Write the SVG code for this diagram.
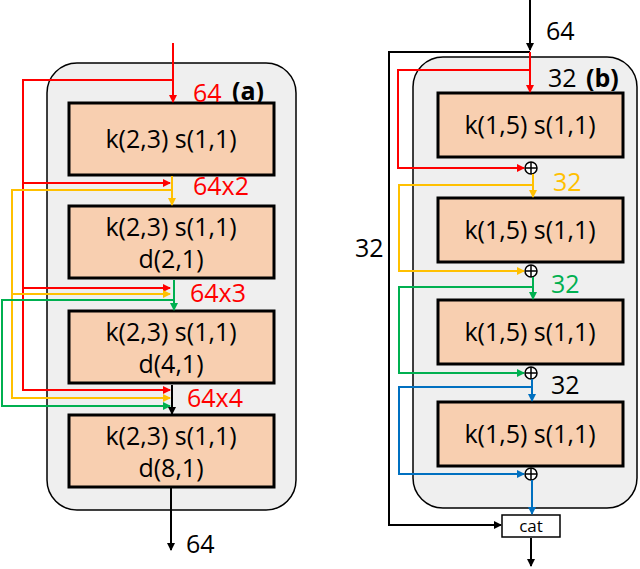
<svg xmlns="http://www.w3.org/2000/svg" width="640" height="569" viewBox="0 0 640 569">
<style>
text{font-family:"Open Sans","Liberation Sans",sans-serif;}
.panel{fill:#efefef;stroke:#000;stroke-width:1.5}
.box{fill:#f8cfb0;stroke:#000;stroke-width:3}
.bt{font-size:25px;text-anchor:middle}
.lb{font-size:25px}
.l{fill:none;stroke-width:2}
</style>
<defs>
<marker id="ak" markerWidth="8" markerHeight="8" refX="7" refY="4" orient="auto" markerUnits="userSpaceOnUse"><path d="M0,0L8,4L0,8z" fill="#000"/></marker>
<marker id="ar" markerWidth="8" markerHeight="8" refX="7" refY="4" orient="auto" markerUnits="userSpaceOnUse"><path d="M0,0L8,4L0,8z" fill="#f00"/></marker>
<marker id="ay" markerWidth="8" markerHeight="8" refX="7" refY="4" orient="auto" markerUnits="userSpaceOnUse"><path d="M0,0L8,4L0,8z" fill="#ffc000"/></marker>
<marker id="ag" markerWidth="8" markerHeight="8" refX="7" refY="4" orient="auto" markerUnits="userSpaceOnUse"><path d="M0,0L8,4L0,8z" fill="#00b050"/></marker>
<marker id="ab" markerWidth="8" markerHeight="8" refX="7" refY="4" orient="auto" markerUnits="userSpaceOnUse"><path d="M0,0L8,4L0,8z" fill="#0070c0"/></marker>
</defs>
<rect class="panel" x="47" y="63" width="249" height="447" rx="30"/>
<rect class="panel" x="413" y="57" width="224" height="451" rx="30"/>
<g id="a1"><rect class="box" x="69" y="103" width="205" height="72"/><text class="bt" x="171" y="148">k(2,3) s(1,1)</text></g>
<g id="a2"><rect class="box" x="69" y="206" width="205" height="72"/><text class="bt" x="171" y="236">k(2,3) s(1,1)</text><text class="bt" x="171" y="268">d(2,1)</text></g>
<g id="a3"><rect class="box" x="69" y="311" width="205" height="72"/><text class="bt" x="171" y="341">k(2,3) s(1,1)</text><text class="bt" x="171" y="373">d(4,1)</text></g>
<g id="a4"><rect class="box" x="69" y="415" width="205" height="72"/><text class="bt" x="171" y="445">k(2,3) s(1,1)</text><text class="bt" x="171" y="477">d(8,1)</text></g>
<g id="b1"><rect class="box" x="438" y="93" width="185" height="64"/><text class="bt" x="530" y="134">k(1,5) s(1,1)</text></g>
<g id="b2"><rect class="box" x="438" y="198" width="185" height="64"/><text class="bt" x="530" y="239">k(1,5) s(1,1)</text></g>
<g id="b3"><rect class="box" x="438" y="300" width="185" height="64"/><text class="bt" x="530" y="341">k(1,5) s(1,1)</text></g>
<g id="b4"><rect class="box" x="438" y="402" width="185" height="64"/><text class="bt" x="530" y="443">k(1,5) s(1,1)</text></g>
<g id="cat"><rect x="502" y="515" width="58" height="22" fill="#fff" stroke="#000" stroke-width="1.5"/><text x="531" y="532" font-size="17" text-anchor="middle">cat</text></g>
<g id="plus" fill="#fff" stroke="#000" stroke-width="1.5">
<circle cx="531" cy="168" r="6"/><path d="M525,168h12M531,162v12"/>
<circle cx="531" cy="271" r="6"/><path d="M525,271h12M531,265v12"/>
<circle cx="531" cy="373" r="6"/><path d="M525,373h12M531,367v12"/>
<circle cx="531" cy="474" r="6"/><path d="M525,474h12M531,468v12"/>
</g>
<g id="connectors">
<path class="l" stroke="#f00" d="M173,43V102" marker-end="url(#ar)"/>
<path class="l" stroke="#f00" d="M173,80H23V390H170" marker-end="url(#ar)"/>
<path class="l" stroke="#f00" d="M23,183H170" marker-end="url(#ar)"/>
<path class="l" stroke="#f00" d="M23,288H170" marker-end="url(#ar)"/>
<path class="l" stroke="#ffc000" d="M172,176V205" marker-end="url(#ay)"/>
<path class="l" stroke="#ffc000" d="M172,190H12V398H170" marker-end="url(#ay)"/>
<path class="l" stroke="#ffc000" d="M12,294H170" marker-end="url(#ay)"/>
<path class="l" stroke="#00b050" d="M174,280V310" marker-end="url(#ag)"/>
<path class="l" stroke="#00b050" d="M174,300H2V406H170" marker-end="url(#ag)"/>
<path class="l" stroke="#000" d="M172,385V414" marker-end="url(#ak)"/>
<path class="l" stroke="#000" d="M171,488V550" marker-end="url(#ak)"/>
<path class="l" stroke="#000" d="M530,0V50" marker-end="url(#ak)"/>
<path class="l" stroke="#000" d="M530,52H389V525H501" marker-end="url(#ak)"/>
<path class="l" stroke="#000" d="M531,538V566" marker-end="url(#ak)"/>
<path class="l" stroke="#f00" d="M530,52V92" marker-end="url(#ar)"/>
<path class="l" stroke="#f00" d="M530,70H398V168H524" marker-end="url(#ar)"/>
<path class="l" stroke="#ffc000" d="M533,174V197" marker-end="url(#ay)"/>
<path class="l" stroke="#ffc000" d="M533,185H399V271H524" marker-end="url(#ay)"/>
<path class="l" stroke="#00b050" d="M533,277V299" marker-end="url(#ag)"/>
<path class="l" stroke="#00b050" d="M533,287H399V373H524" marker-end="url(#ag)"/>
<path class="l" stroke="#0070c0" d="M532,379V401" marker-end="url(#ab)"/>
<path class="l" stroke="#0070c0" d="M532,387H399V474H524" marker-end="url(#ab)"/>
<path class="l" stroke="#0070c0" d="M532,480V514" marker-end="url(#ab)"/>
</g>
<g id="labels">
<text class="lb" x="193" y="102" fill="#f00">64</text>
<text class="lb" x="232" y="100" font-weight="bold" font-size="23">(a)</text>
<text class="lb" x="193" y="195" fill="#f00">64x2</text>
<text class="lb" x="190" y="302" fill="#f00">64x3</text>
<text class="lb" x="187" y="407" fill="#f00">64x4</text>
<text class="lb" x="186" y="553">64</text>
<text class="lb" x="546" y="40">64</text>
<text class="lb" x="548" y="87">32</text>
<text class="lb" x="586" y="87" font-weight="bold" font-size="23">(b)</text>
<text class="lb" x="553" y="191" fill="#ffc000">32</text>
<text class="lb" x="551" y="293" fill="#00b050">32</text>
<text class="lb" x="551" y="394">32</text>
<text class="lb" x="355" y="257">32</text>
</g>
</svg>
